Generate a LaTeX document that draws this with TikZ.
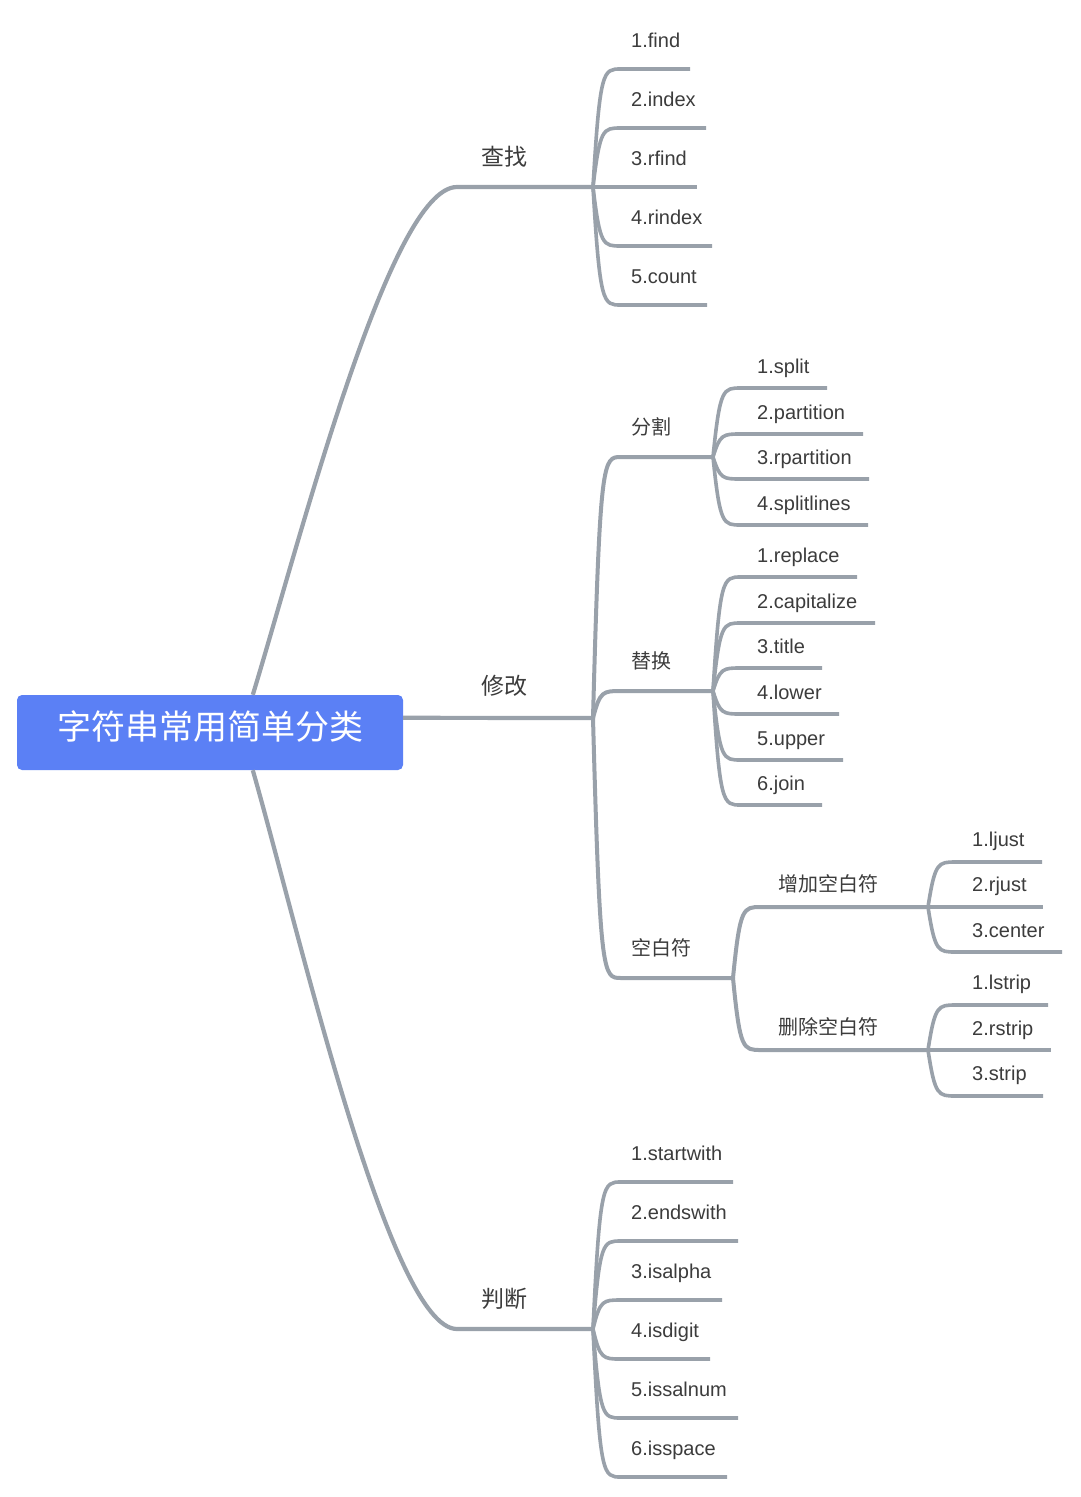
\documentclass[tikz,border=0pt]{standalone}
\usepackage{fontspec}
\setmainfont{Liberation Sans}
\newfontfamily\cjk{Noto Sans CJK SC}
\usetikzlibrary{calc}
\definecolor{edgegray}{HTML}{99A1AA}
\definecolor{rootblue}{HTML}{5B80F5}
\definecolor{txt}{HTML}{3C3C3C}
\newcommand\mmlink[3]{\draw[#1] (#2) .. controls ($(#2|-#3)+(7,0)$) and ($(#2|-#3)+(10,0)$) .. ($(#2|-#3)+(28,0)$) -- (#3);}
\tikzset{
  leaftext/.style={anchor=west, inner sep=0pt, text height=14.3pt, text depth=0pt,
    font=\fontsize{20}{20}\selectfont, text=txt},
  cjkA/.style={anchor=west, inner sep=0pt, text height=20.2pt, text depth=2.8pt,
    font=\cjk\fontsize{23}{23}\selectfont, text=txt},
  cjkB/.style={anchor=west, inner sep=0pt, text height=17.6pt, text depth=2.4pt,
    font=\cjk\fontsize{20}{20}\selectfont, text=txt},
  lineone/.style={draw=edgegray, line width=4.2pt, line cap=butt, line join=round},
  linetwo/.style={draw=edgegray, line width=4pt, line cap=butt, line join=round},
  leafline/.style={draw=edgegray, line width=3.6pt, line cap=butt, line join=round},
  rootbox/.style={rectangle, rounded corners=5pt, fill=rootblue, minimum width=386pt,
    minimum height=75pt, inner sep=0pt, text=white, text height=29.9pt, text depth=15.1pt,
    font=\cjk\fontsize{34}{34}\selectfont},
}
\begin{document}
\begin{tikzpicture}[x=1pt,y=-1pt]
\fill[white] (0,0) rectangle (1080,1497);
\useasboundingbox (0,0) rectangle (1080,1497);

% root
\node[rootbox] (root) at (210,732.5) {字符串常用简单分类};
\coordinate (rt) at ($(root.north west)+(236,0)$);
\coordinate (rb) at ($(root.south west)+(236,0)$);
\coordinate (re) at ($(root.north east)+(0,23)$);

% branch points
\coordinate (b1) at (593,187);
\coordinate (b2) at (593,718);
\coordinate (b3) at (593,1329);
\coordinate (b21) at (713,457);
\coordinate (b22) at (713,691);
\coordinate (b23) at (733,978);
\coordinate (b231) at (928,907);
\coordinate (b232) at (928,1050);

% level 1
\draw[lineone] (rt) .. controls (300,540) and (390,187) .. (457,187) -- (b1);
\draw[lineone] (re) -- (b2);
\draw[lineone] (rb) .. controls (300,935) and (390,1329) .. (457,1329) -- (b3);
\node[cjkA] (chazhao) at (481,157) {查找};
\node[cjkA] (xiugai) at (481,686) {修改};
\node[cjkA] (panduan) at (481,1299) {判断};

% level 2
\mmlink{linetwo}{b2}{b21}
\mmlink{linetwo}{b2}{b22}
\mmlink{linetwo}{b2}{b23}
\node[cjkB] (fenge) at (631,427) {分割};
\node[cjkB] (tihuan) at (631,661) {替换};
\node[cjkB] (kongbai) at (631,948) {空白符};

% level 3
\mmlink{linetwo}{b23}{b231}
\mmlink{linetwo}{b23}{b232}
\node[cjkB] (zengjia) at (778,884) {增加空白符};
\node[cjkB] (shanchu) at (778,1027) {删除空白符};

% leaves of 查找
\foreach \nm/\lab/\ly/\ex/\ty in {find/1.find/69/690/40, index/2.index/128/706/99,
  rfind/3.rfind/187/697/158, rindex/4.rindex/246/712/217, count/5.count/305/707/276}{
  \node[leaftext] (\nm) at (631,\ty) {\lab};
  \coordinate (\nm E) at (\ex,\ly);
  \mmlink{leafline}{b1}{\nm E}
}
% leaves of 判断
\foreach \nm/\lab/\ly/\ex/\ty in {startwith/1.startwith/1182/733/1153, endswith/2.endswith/1241/738/1212,
  isalpha/3.isalpha/1300/722/1271, isdigit/4.isdigit/1359/710/1330,
  issalnum/5.issalnum/1418/738/1389, isspace/6.isspace/1477/727/1448}{
  \node[leaftext] (\nm) at (631,\ty) {\lab};
  \coordinate (\nm E) at (\ex,\ly);
  \mmlink{leafline}{b3}{\nm E}
}
% leaves of 分割
\foreach \nm/\lab/\ly/\ex/\ty in {split/1.split/388/827/366, partition/2.partition/434/863/412,
  rpartition/3.rpartition/479/869/457, splitlines/4.splitlines/525/868/503}{
  \node[leaftext] (\nm) at (757,\ty) {\lab};
  \coordinate (\nm E) at (\ex,\ly);
  \mmlink{leafline}{b21}{\nm E}
}
% leaves of 替换
\foreach \nm/\lab/\ly/\ex/\ty in {replace/1.replace/577/857/555, capitalize/2.capitalize/623/875/601,
  title/3.title/668/822/646, lower/4.lower/714/839/692,
  upper/5.upper/760/843/738, join/6.join/805/822/783}{
  \node[leaftext] (\nm) at (757,\ty) {\lab};
  \coordinate (\nm E) at (\ex,\ly);
  \mmlink{leafline}{b22}{\nm E}
}
% leaves of 增加空白符
\foreach \nm/\lab/\ly/\ex/\ty in {ljust/1.ljust/862/1042/839, rjust/2.rjust/907/1043/884,
  center/3.center/952/1062/930}{
  \node[leaftext] (\nm) at (972,\ty) {\lab};
  \coordinate (\nm E) at (\ex,\ly);
  \mmlink{leafline}{b231}{\nm E}
}
% leaves of 删除空白符
\foreach \nm/\lab/\ly/\ex/\ty in {lstrip/1.lstrip/1005/1048/982, rstrip/2.rstrip/1050/1051/1028,
  strip/3.strip/1096/1043/1073}{
  \node[leaftext] (\nm) at (972,\ty) {\lab};
  \coordinate (\nm E) at (\ex,\ly);
  \mmlink{leafline}{b232}{\nm E}
}
\end{tikzpicture}
\end{document}
